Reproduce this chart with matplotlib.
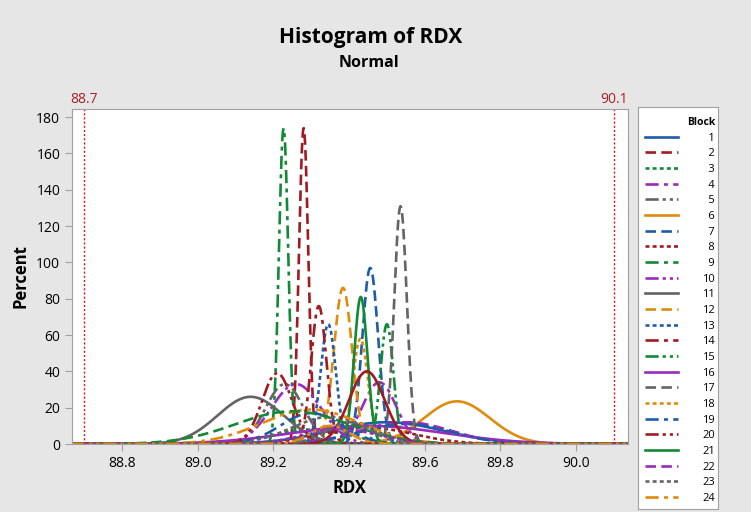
import matplotlib.pyplot as plt
import numpy as np

plt.rcParams["font.family"] = ["Open Sans", "DejaVu Sans"]

# fitted normal curve per block: mean, std dev, peak height (percent)
blocks = list(range(1, 31))
means = [89.50, 89.280, 89.30, 89.48, 89.23, 89.685, 89.456, 89.45, 89.227, 89.26,
         89.14, 89.384, 89.345, 89.32, 89.50, 89.45, 89.536, 89.43, 89.30, 89.21,
         89.431, 89.55, 89.35, 89.30, 89.55, 89.447, 89.25, 89.38, 89.40, 89.35]
sigmas = [0.15, 0.0123, 0.10, 0.045, 0.05, 0.087, 0.021, 0.12, 0.0123, 0.065,
          0.087, 0.024, 0.020, 0.020, 0.017, 0.20, 0.0167, 0.020, 0.08, 0.04,
          0.0175, 0.12, 0.10, 0.13, 0.12, 0.047, 0.15, 0.10, 0.06, 0.05]
peaks = [12, 174, 8, 34, 33, 23.5, 97, 9, 174, 33,
         26, 86, 66, 76, 66, 10, 131, 58, 17, 39,
         81, 12, 15, 19, 11, 40, 18, 8, 12, 10]

lsl, usl = 88.7, 90.1
xticks = [88.8, 89.0, 89.2, 89.4, 89.6, 89.8, 90.0]
yticks = [0, 20, 40, 60, 80, 100, 120, 140, 160, 180]

COLORS = ["#1f5ba8", "#a11a22", "#118a37", "#9a2bbd", "#646464", "#de8c0e"]
STYLES = ["-", (0, (4, 2)), (0, (1.5, 1.2)), (0, (5, 2, 1.5, 2)),
          (0, (5, 1.5, 1.2, 1.5, 1.2, 1.5))]
RED = "#a5202a"

fig = plt.figure(figsize=(7.51, 5.12), dpi=100, facecolor="#e6e6e6")
ax = fig.add_axes([72 / 751, 1 - 444 / 512, 556 / 751, 335 / 512])

xs = np.linspace(88.668, 90.137, 800)
handles = []
for i, b in enumerate(blocks):
    ys = peaks[i] * np.exp(-0.5 * ((xs - means[i]) / sigmas[i]) ** 2)
    (h,) = ax.plot(xs, ys, color=COLORS[i % 6], linestyle=STYLES[i % 5],
                   linewidth=1.9, label=str(b))
    handles.append(h)

ax.axvline(lsl, color="#e8101a", linestyle=(0, (1.5, 1.5)), linewidth=1)
ax.axvline(usl, color="#e8101a", linestyle=(0, (1.5, 1.5)), linewidth=1)
ax.text(lsl, 1.005, f"{lsl}", transform=ax.get_xaxis_transform(),
        ha="center", va="bottom", color=RED, fontsize=10)
ax.text(usl, 1.005, f"{usl}", transform=ax.get_xaxis_transform(),
        ha="center", va="bottom", color=RED, fontsize=10)

ax.set_xlim(88.668, 90.137)
ax.set_ylim(0, 184.5)
ax.set_xticks(xticks)
ax.set_xticklabels([f"{v:.1f}" for v in xticks])
ax.set_yticks(yticks)
ax.tick_params(direction="out", length=5, color="#a0a0a0", labelsize=10)
for s in ax.spines.values():
    s.set_color("#a0a0a0")
ax.set_xlabel("RDX", fontsize=12, fontweight="bold", labelpad=6)
ax.set_ylabel("Percent", fontsize=12, fontweight="bold", labelpad=5)

fig.text(371 / 751, 1 - 38 / 512, "Histogram of RDX", ha="center", va="center",
         fontsize=15, fontweight="bold")
fig.text(369 / 751, 1 - 63 / 512, "Normal", ha="center", va="center",
         fontsize=11.5, fontweight="bold")

# legend panel, clipped at its bottom like the original
lax = fig.add_axes([638 / 751, 1 - 509 / 512, 80 / 751, 402 / 512])
lax.set_xticks([])
lax.set_yticks([])
for s in lax.spines.values():
    s.set_color("#a0a0a0")
labels = [f"{b:>2}".replace(" ", "\u2007") for b in blocks]
leg = lax.legend(handles, labels, loc="upper left", bbox_to_anchor=(0.0, 0.992),
                 frameon=False, title="Block", fontsize=8, title_fontsize=7.5,
                 handlelength=3.0, handletextpad=2.2, labelspacing=0.42,
                 borderpad=0.4, borderaxespad=0.2)
leg.get_title().set_fontweight("bold")
leg._legend_box.align = "right"
for a in leg.findobj():
    a.set_clip_box(lax.bbox)
    a.set_clip_on(True)

fig.savefig("out.png", dpi=100, facecolor=fig.get_facecolor())
